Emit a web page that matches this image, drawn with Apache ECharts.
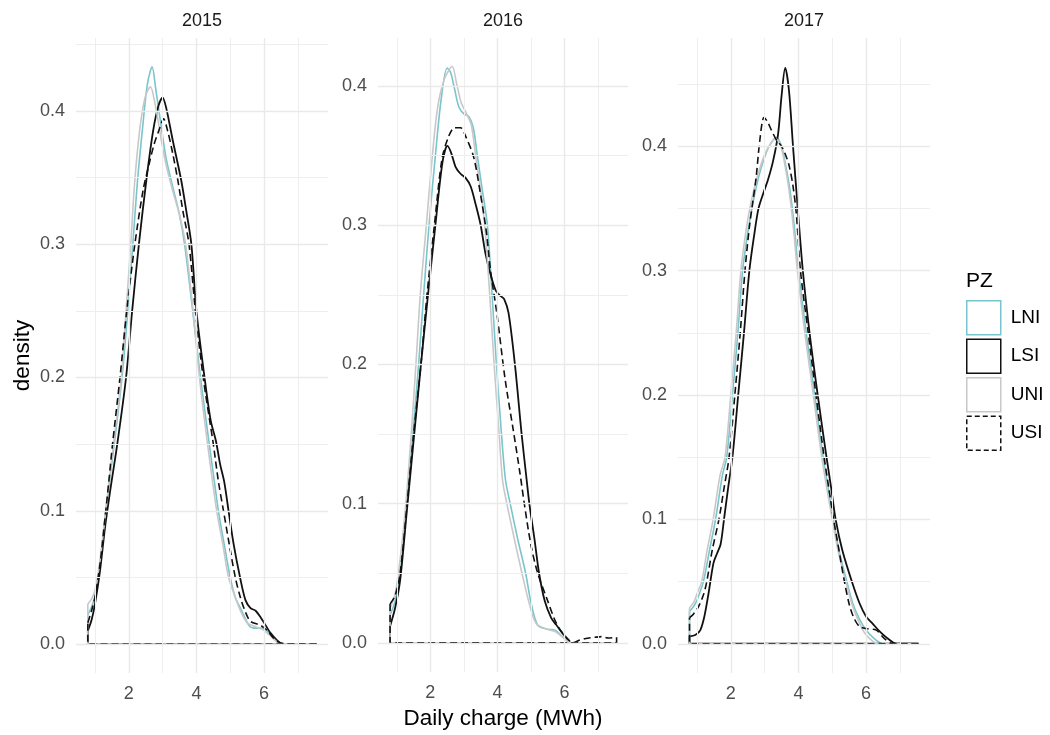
<!DOCTYPE html>
<html><head><meta charset="utf-8">
<script src="https://cdn.jsdelivr.net/npm/echarts@6/dist/echarts.min.js"></script>
<style>html,body{margin:0;padding:0;background:#fff}#c{width:1050px;height:735px}</style>
</head><body><div id="c"></div>
<script>
// ---------- data ----------
const years = ['2015', '2016', '2017'];
const zones = ['LNI', 'LSI', 'UNI', 'USI'];
const xTicks = [2, 4, 6];
const xMinorTicks = [1, 3, 5, 7];
const yTicks = [0, 0.1, 0.2, 0.3, 0.4];
const yMinorTicks = [0.05, 0.15, 0.25, 0.35, 0.45];
const xTitle = 'Daily charge (MWh)';
const yTitle = 'density';
const legendTitle = 'PZ';

// density curves: [Daily charge, density]
const lni2015 = [[0.79,0.022],[0.9,0.028],[1.0,0.036],[1.15,0.06],[1.32,0.1],[1.57,0.15],[1.8,0.2],[1.97,0.25],[2.12,0.3],[2.25,0.345],[2.4,0.385],[2.55,0.42],[2.69,0.433],[2.8,0.416],[2.95,0.39],[3.1,0.365],[3.3,0.343],[3.5,0.322],[3.65,0.3],[3.89,0.25],[4.12,0.2],[4.38,0.15],[4.53,0.122],[4.65,0.1],[4.82,0.075],[5.0,0.05],[5.15,0.035],[5.34,0.025],[5.55,0.014],[5.7,0.012],[5.98,0.012],[6.15,0.008],[6.42,0.001],[6.7,0],[7.55,0]];
const lsi2015 = [[0.79,0.01],[0.9,0.018],[1.0,0.03],[1.15,0.055],[1.3,0.088],[1.45,0.115],[1.66,0.15],[1.92,0.2],[2.1,0.25],[2.3,0.3],[2.52,0.348],[2.72,0.385],[2.88,0.404],[3.0,0.41],[3.1,0.403],[3.3,0.378],[3.55,0.348],[3.7,0.325],[3.85,0.3],[4.0,0.25],[4.24,0.2],[4.42,0.168],[4.58,0.152],[4.7,0.135],[4.82,0.122],[4.95,0.1],[5.1,0.075],[5.29,0.05],[5.45,0.033],[5.6,0.027],[5.75,0.025],[5.9,0.02],[6.0,0.016],[6.2,0.008],[6.47,0.001],[6.7,0],[7.55,0]];
const uni2015 = [[0.79,0.03],[0.9,0.034],[1.0,0.04],[1.15,0.063],[1.32,0.1],[1.55,0.15],[1.78,0.2],[1.92,0.25],[2.06,0.3],[2.17,0.345],[2.32,0.385],[2.48,0.41],[2.64,0.418],[2.78,0.405],[2.95,0.38],[3.1,0.36],[3.3,0.34],[3.5,0.322],[3.68,0.3],[3.9,0.25],[4.09,0.2],[4.33,0.15],[4.6,0.1],[4.78,0.075],[4.95,0.05],[5.15,0.035],[5.3,0.025],[5.5,0.016],[5.75,0.013],[5.95,0.011],[6.15,0.007],[6.42,0.001],[6.7,0],[7.55,0]];
const usi2015 = [[0.79,0.016],[0.9,0.025],[1.0,0.035],[1.15,0.06],[1.3,0.095],[1.41,0.122],[1.52,0.15],[1.74,0.2],[1.94,0.25],[2.18,0.3],[2.42,0.34],[2.6,0.36],[2.75,0.375],[2.9,0.386],[3.03,0.394],[3.15,0.385],[3.3,0.368],[3.45,0.348],[3.6,0.325],[3.78,0.3],[3.97,0.25],[4.2,0.2],[4.5,0.15],[4.65,0.122],[4.8,0.1],[4.97,0.075],[5.15,0.05],[5.3,0.035],[5.45,0.024],[5.6,0.017],[5.9,0.014],[6.1,0.01],[6.3,0.004],[6.47,0.001],[6.7,0],[7.55,0]];

const lni2016 = [[0.8,0.02],[0.95,0.03],[1.1,0.05],[1.3,0.1],[1.48,0.15],[1.65,0.2],[1.8,0.25],[1.96,0.3],[2.15,0.35],[2.32,0.39],[2.5,0.413],[2.6,0.41],[2.72,0.398],[2.85,0.385],[3.0,0.38],[3.15,0.378],[3.28,0.37],[3.4,0.35],[3.55,0.325],[3.7,0.3],[3.84,0.25],[3.97,0.2],[4.12,0.15],[4.24,0.117],[4.38,0.1],[4.6,0.075],[4.84,0.05],[4.99,0.03],[5.19,0.013],[5.45,0.01],[5.73,0.009],[6.0,0.003],[6.2,0],[7.55,0]];
const lsi2016 = [[0.8,0.012],[0.95,0.025],[1.1,0.045],[1.3,0.095],[1.5,0.145],[1.72,0.2],[1.93,0.25],[2.15,0.3],[2.36,0.345],[2.51,0.357],[2.62,0.352],[2.75,0.342],[2.9,0.337],[3.05,0.334],[3.2,0.328],[3.35,0.315],[3.5,0.3],[3.64,0.28],[3.79,0.265],[3.95,0.253],[4.1,0.249],[4.2,0.247],[4.33,0.237],[4.52,0.2],[4.72,0.15],[4.87,0.117],[4.95,0.1],[5.1,0.075],[5.24,0.05],[5.41,0.03],[5.6,0.018],[5.75,0.013],[6.0,0.005],[6.2,0],[7.55,0]];
const uni2016 = [[0.8,0.025],[0.95,0.035],[1.1,0.06],[1.27,0.1],[1.43,0.15],[1.57,0.2],[1.7,0.25],[1.88,0.3],[2.06,0.35],[2.22,0.385],[2.42,0.405],[2.65,0.414],[2.78,0.402],[2.92,0.388],[3.08,0.38],[3.22,0.372],[3.35,0.35],[3.5,0.325],[3.62,0.3],[3.77,0.25],[3.9,0.2],[4.05,0.15],[4.15,0.117],[4.28,0.1],[4.5,0.075],[4.73,0.05],[4.95,0.028],[5.15,0.014],[5.45,0.01],[5.73,0.008],[6.0,0.003],[6.2,0],[7.55,0]];
const usi2016 = [[0.8,0.028],[0.95,0.034],[1.1,0.05],[1.3,0.098],[1.5,0.15],[1.72,0.2],[1.9,0.25],[2.12,0.3],[2.35,0.348],[2.55,0.364],[2.72,0.37],[2.9,0.37],[3.05,0.364],[3.29,0.349],[3.49,0.323],[3.67,0.295],[3.79,0.268],[3.98,0.237],[4.23,0.189],[4.47,0.153],[4.67,0.122],[4.8,0.1],[5.0,0.07],[5.2,0.05],[5.5,0.03],[5.7,0.017],[5.85,0.01],[6.05,0.004],[6.25,0],[6.45,0.002],[6.6,0.003],[6.9,0.004],[7.1,0.0045],[7.3,0.0035],[7.55,0.004]];

const lni2017 = [[0.78,0.026],[0.9,0.03],[1.0,0.035],[1.19,0.05],[1.37,0.075],[1.55,0.1],[1.75,0.135],[1.88,0.15],[2.05,0.2],[2.21,0.25],[2.35,0.3],[2.5,0.33],[2.66,0.355],[2.85,0.378],[3.05,0.395],[3.2,0.403],[3.35,0.407],[3.5,0.4],[3.62,0.385],[3.75,0.365],[3.88,0.335],[4.0,0.3],[4.23,0.25],[4.48,0.2],[4.73,0.15],[4.88,0.125],[5.03,0.1],[5.2,0.075],[5.43,0.05],[5.6,0.033],[5.8,0.02],[6.0,0.011],[6.25,0.004],[6.5,0],[7.55,0]];
const lsi2017 = [[0.78,0.006],[0.95,0.007],[1.1,0.011],[1.22,0.022],[1.34,0.04],[1.49,0.065],[1.6,0.073],[1.7,0.08],[1.8,0.1],[1.92,0.125],[2.05,0.15],[2.22,0.2],[2.39,0.25],[2.55,0.3],[2.7,0.33],[2.82,0.35],[2.96,0.362],[3.1,0.373],[3.25,0.388],[3.4,0.41],[3.5,0.44],[3.61,0.463],[3.72,0.445],[3.84,0.4],[3.98,0.35],[4.13,0.3],[4.33,0.25],[4.57,0.2],[4.83,0.15],[4.97,0.125],[5.1,0.1],[5.3,0.075],[5.58,0.05],[5.8,0.033],[6.0,0.022],[6.2,0.016],[6.4,0.01],[6.65,0.004],[6.9,0],[7.55,0]];
const uni2017 = [[0.78,0.029],[0.9,0.033],[1.0,0.04],[1.14,0.05],[1.3,0.075],[1.48,0.1],[1.68,0.135],[1.83,0.15],[2.0,0.2],[2.16,0.25],[2.3,0.3],[2.44,0.33],[2.6,0.355],[2.8,0.377],[3.0,0.393],[3.2,0.403],[3.33,0.406],[3.48,0.4],[3.6,0.385],[3.72,0.365],[3.85,0.335],[3.97,0.3],[4.19,0.25],[4.44,0.2],[4.69,0.15],[4.84,0.125],[5.0,0.1],[5.17,0.075],[5.4,0.05],[5.57,0.033],[5.75,0.02],[5.95,0.009],[6.2,0.002],[6.4,0],[7.55,0]];
const usi2017 = [[0.78,0.021],[0.9,0.024],[1.05,0.03],[1.2,0.04],[1.29,0.05],[1.45,0.075],[1.65,0.1],[1.8,0.125],[1.95,0.15],[2.12,0.2],[2.28,0.25],[2.42,0.3],[2.55,0.335],[2.65,0.355],[2.75,0.375],[2.86,0.405],[2.98,0.423],[3.08,0.42],[3.2,0.413],[3.35,0.405],[3.5,0.4],[3.62,0.393],[3.72,0.385],[3.84,0.368],[3.94,0.345],[4.06,0.3],[4.29,0.25],[4.52,0.2],[4.76,0.15],[4.9,0.125],[5.04,0.1],[5.2,0.075],[5.36,0.05],[5.5,0.032],[5.62,0.022],[5.8,0.014],[6.05,0.012],[6.3,0.011],[6.55,0.004],[6.8,0],[7.55,0]];

const curves = {
  '2015': { LNI: lni2015, LSI: lsi2015, UNI: uni2015, USI: usi2015 },
  '2016': { LNI: lni2016, LSI: lsi2016, UNI: uni2016, USI: usi2016 },
  '2017': { LNI: lni2017, LSI: lsi2017, UNI: uni2017, USI: usi2017 }
};

// ---------- layout / style ----------
const FONT = 'Liberation Sans, Arial, sans-serif';
const xRange = [0.44, 7.89];
const yRanges = [[-0.0217, 0.4547], [-0.021, 0.4345], [-0.0235, 0.487]];
const panels = [
  { left: 76, width: 252, titleX: 202 },
  { left: 378, width: 250, titleX: 503 },
  { left: 678, width: 252, titleX: 804 }
];
const TOP = 38, HEIGHT = 635;
const zoneStyle = {
  LNI: { color: '#79c5cd', width: 1.6, type: 'solid' },
  LSI: { color: '#111111', width: 1.8, type: 'solid' },
  UNI: { color: '#c8c8c8', width: 1.6, type: 'solid' },
  USI: { color: '#111111', width: 1.6, type: [7, 4] }
};
const GRID_MAJOR = { color: '#e9e9e9', width: 1.4, type: 'solid' };
const GRID_MINOR = { color: '#eeeeee', width: 1.0, type: 'solid' };

const grid = [], xAxis = [], yAxis = [], series = [], title = [];

panels.forEach((p, i) => {
  const [ymin, ymax] = yRanges[i];
  grid.push({ left: p.left, top: TOP, width: p.width, height: HEIGHT, containLabel: false });
  xAxis.push({
    type: 'value', gridIndex: i, min: xRange[0], max: xRange[1],
    axisLine: { show: false }, axisTick: { show: false }, splitLine: { show: false },
    axisLabel: { customValues: xTicks, margin: 12, fontSize: 18, color: '#4d4d4d', fontFamily: FONT },
    name: i === 1 ? xTitle : '', nameLocation: 'middle', nameGap: 31,
    nameTextStyle: { fontSize: 22.5, color: '#000', fontFamily: FONT }
  });
  yAxis.push({
    type: 'value', gridIndex: i, min: ymin, max: ymax,
    axisLine: { show: false }, axisTick: { show: false }, splitLine: { show: false },
    axisLabel: { customValues: yTicks, margin: 11, fontSize: 18, color: '#4d4d4d', fontFamily: FONT,
      formatter: v => v.toFixed(1) },
    name: i === 0 ? yTitle : '', nameLocation: 'middle', nameGap: 42,
    nameTextStyle: { fontSize: 22.5, color: '#000', fontFamily: FONT }
  });
  title.push({ text: years[i], left: p.titleX, top: 12, textAlign: 'center', padding: 0,
    textStyle: { fontSize: 18, fontWeight: 'normal', color: '#1a1a1a', fontFamily: FONT } });

  // background grid lines
  const ml = [];
  xMinorTicks.forEach(v => ml.push({ xAxis: v, lineStyle: GRID_MINOR }));
  yMinorTicks.filter(v => v < ymax).forEach(v => ml.push({ yAxis: v, lineStyle: GRID_MINOR }));
  xTicks.forEach(v => ml.push({ xAxis: v, lineStyle: GRID_MAJOR }));
  yTicks.filter(v => v < ymax).forEach(v => ml.push({ yAxis: v, lineStyle: GRID_MAJOR }));
  series.push({
    type: 'line', name: 'grid' + i, xAxisIndex: i, yAxisIndex: i, data: [], silent: true,
    markLine: { silent: true, symbol: ['none', 'none'], label: { show: false }, animation: false,
      emphasis: { disabled: true }, data: ml }
  });

  // density outlines (curve + closing baseline, like a polygon outline)
  zones.forEach(z => {
    const d = curves[years[i]][z];
    const st = zoneStyle[z];
    series.push({
      type: 'line', name: z, xAxisIndex: i, yAxisIndex: i, data: d,
      smooth: 0.3, showSymbol: false, symbol: 'none', silent: true,
      lineStyle: { color: st.color, width: st.width, type: st.type }, itemStyle: { color: st.color }
    });
    const first = d[0], last = d[d.length - 1];
    series.push({
      type: 'line', name: z + ' base', xAxisIndex: i, yAxisIndex: i,
      data: [last, [last[0], 0], [first[0], 0], first],
      smooth: false, showSymbol: false, symbol: 'none', silent: true,
      lineStyle: { color: st.color, width: st.width, type: st.type }, itemStyle: { color: st.color }
    });
  });
});

title.push({ text: legendTitle, left: 966, top: 271, padding: 0,
  textStyle: { fontSize: 21, fontWeight: 'normal', color: '#000', fontFamily: FONT } });

const chart = echarts.init(document.getElementById('c'), null, { renderer: 'canvas' });
chart.setOption({
  animation: false,
  backgroundColor: '#ffffff',
  title, grid, xAxis, yAxis, series,
  legend: {
    orient: 'vertical', left: 966, top: 300, padding: 0,
    itemWidth: 34, itemHeight: 34, itemGap: 3, selectedMode: false,
    textStyle: { fontSize: 19, color: '#000', fontFamily: FONT, padding: [0, 0, 0, 5] },
    data: zones.map(z => ({
      name: z, icon: 'rect',
      itemStyle: { color: '#ffffff', borderColor: zoneStyle[z].color, borderWidth: 1.5,
        borderType: z === 'USI' ? [5, 3] : 'solid' }
    }))
  }
});
</script></body></html>
